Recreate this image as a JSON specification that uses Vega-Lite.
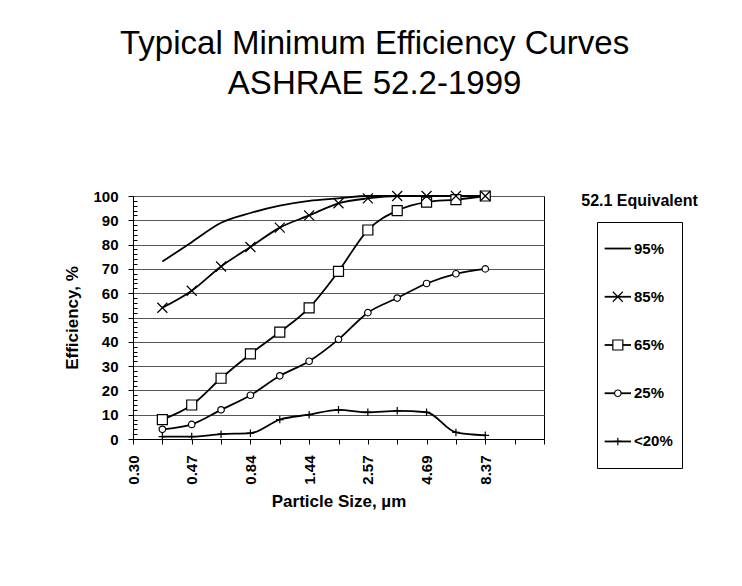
{
  "$schema": "https://vega.github.io/schema/vega-lite/v6.json",
  "background": "white",
  "padding": {"left": 63, "top": 28, "right": 5, "bottom": 5},
  "title": {
    "text": ["Typical Minimum Efficiency Curves", "ASHRAE 52.2-1999"],
    "font": "Liberation Sans",
    "fontSize": 33,
    "fontWeight": "normal",
    "lineHeight": 40,
    "color": "black",
    "anchor": "middle",
    "offset": 87,
    "dx": -6
  },
  "config": {
    "font": "Liberation Sans",
    "view": {"stroke": "black", "strokeWidth": 1},
    "axis": {
      "labelColor": "black",
      "titleColor": "black",
      "domainColor": "black",
      "tickColor": "black",
      "labelFont": "Liberation Sans",
      "titleFont": "Liberation Sans"
    }
  },
  "spacing": 28,
  "datasets": {
    "eff": [
      {"size": "0.35", "series": "95%", "eff": 73},
      {"size": "0.47", "series": "95%", "eff": 81},
      {"size": "0.62", "series": "95%", "eff": 89},
      {"size": "0.84", "series": "95%", "eff": 93},
      {"size": "1.14", "series": "95%", "eff": 96},
      {"size": "1.44", "series": "95%", "eff": 98},
      {"size": "1.88", "series": "95%", "eff": 99},
      {"size": "2.57", "series": "95%", "eff": 100},
      {"size": "3.46", "series": "95%", "eff": 100},
      {"size": "4.69", "series": "95%", "eff": 100},
      {"size": "6.20", "series": "95%", "eff": 100},
      {"size": "8.37", "series": "95%", "eff": 100},
      {"size": "0.35", "series": "<20%", "eff": 1},
      {"size": "0.47", "series": "<20%", "eff": 1},
      {"size": "0.62", "series": "<20%", "eff": 2},
      {"size": "0.84", "series": "<20%", "eff": 2.4},
      {"size": "1.14", "series": "<20%", "eff": 8},
      {"size": "1.44", "series": "<20%", "eff": 10},
      {"size": "1.88", "series": "<20%", "eff": 12},
      {"size": "2.57", "series": "<20%", "eff": 11},
      {"size": "3.46", "series": "<20%", "eff": 11.6},
      {"size": "4.69", "series": "<20%", "eff": 11},
      {"size": "6.20", "series": "<20%", "eff": 2.7},
      {"size": "8.37", "series": "<20%", "eff": 1.5},
      {"size": "0.35", "series": "25%", "eff": 4},
      {"size": "0.47", "series": "25%", "eff": 6},
      {"size": "0.62", "series": "25%", "eff": 12},
      {"size": "0.84", "series": "25%", "eff": 18},
      {"size": "1.14", "series": "25%", "eff": 26},
      {"size": "1.44", "series": "25%", "eff": 32},
      {"size": "1.88", "series": "25%", "eff": 41},
      {"size": "2.57", "series": "25%", "eff": 52},
      {"size": "3.46", "series": "25%", "eff": 58},
      {"size": "4.69", "series": "25%", "eff": 64},
      {"size": "6.20", "series": "25%", "eff": 68},
      {"size": "8.37", "series": "25%", "eff": 70},
      {"size": "0.35", "series": "65%", "eff": 8},
      {"size": "0.47", "series": "65%", "eff": 14},
      {"size": "0.62", "series": "65%", "eff": 25},
      {"size": "0.84", "series": "65%", "eff": 35},
      {"size": "1.14", "series": "65%", "eff": 44},
      {"size": "1.44", "series": "65%", "eff": 54},
      {"size": "1.88", "series": "65%", "eff": 69},
      {"size": "2.57", "series": "65%", "eff": 86},
      {"size": "3.46", "series": "65%", "eff": 94},
      {"size": "4.69", "series": "65%", "eff": 97.5},
      {"size": "6.20", "series": "65%", "eff": 98.5},
      {"size": "8.37", "series": "65%", "eff": 100},
      {"size": "0.35", "series": "85%", "eff": 54},
      {"size": "0.47", "series": "85%", "eff": 61},
      {"size": "0.62", "series": "85%", "eff": 71},
      {"size": "0.84", "series": "85%", "eff": 79},
      {"size": "1.14", "series": "85%", "eff": 87},
      {"size": "1.44", "series": "85%", "eff": 92},
      {"size": "1.88", "series": "85%", "eff": 97},
      {"size": "2.57", "series": "85%", "eff": 99},
      {"size": "3.46", "series": "85%", "eff": 100},
      {"size": "4.69", "series": "85%", "eff": 100},
      {"size": "6.20", "series": "85%", "eff": 100},
      {"size": "8.37", "series": "85%", "eff": 100}
    ],
    "series": [
      {"series": "95%"},
      {"series": "85%"},
      {"series": "65%"},
      {"series": "25%"},
      {"series": "<20%"}
    ]
  },
  "hconcat": [
    {
      "width": 411,
      "height": 243,
      "data": {"name": "eff"},
      "encoding": {
        "x": {
          "field": "size",
          "type": "ordinal",
          "scale": {
            "type": "point",
            "padding": 0,
            "domain": ["0.30", "0.35", "0.47", "0.62", "0.84", "1.14", "1.44", "1.88", "2.57", "3.46", "4.69", "6.20", "8.37", "11.4", "15.5"]
          },
          "axis": {
            "title": "Particle Size, µm",
            "titleFontSize": 17,
            "titleFontWeight": "bold",
            "titlePadding": 9,
            "labelAngle": -90,
            "labelExpr": "indexof(['0.30','0.47','0.84','1.44','2.57','4.69','8.37'], datum.value) >= 0 ? datum.value : ''",
            "labelOverlap": false,
            "labelFontSize": 15,
            "labelFontWeight": "bold",
            "labelPadding": 11,
            "tickSize": 5,
            "grid": false
          }
        },
        "y": {
          "field": "eff",
          "type": "quantitative",
          "scale": {"domain": [0, 100], "nice": false},
          "axis": {
            "title": "Efficiency, %",
            "titleFontSize": 17,
            "titleFontWeight": "bold",
            "titlePadding": 11,
            "values": [0, 2, 4, 6, 8, 10, 12, 14, 16, 18, 20, 22, 24, 26, 28, 30, 32, 34, 36, 38, 40, 42, 44, 46, 48, 50, 52, 54, 56, 58, 60, 62, 64, 66, 68, 70, 72, 74, 76, 78, 80, 82, 84, 86, 88, 90, 92, 94, 96, 98, 100],
            "labelExpr": "datum.value % 10 === 0 ? datum.label : ''",
            "labelOverlap": false,
            "labelFontSize": 15,
            "labelFontWeight": "bold",
            "labelPadding": 10,
            "tickSize": {"condition": {"test": "datum.value % 10 === 0", "value": 5}, "value": -4},
            "grid": true,
            "gridColor": "#555555",
            "gridOpacity": {"condition": {"test": "datum.value % 10 === 0", "value": 1}, "value": 0}
          }
        }
      },
      "layer": [
        {
          "mark": {"type": "line", "interpolate": "monotone", "color": "black", "strokeWidth": 1.8},
          "encoding": {
            "detail": {"field": "series"}
          }
        },
        {
          "transform": [{"filter": "datum.series !== '95%'"}],
          "mark": {"type": "point", "filled": true, "fill": "white", "stroke": "black", "strokeWidth": 1.2, "size": 100, "opacity": 1},
          "encoding": {
            "shape": {
              "field": "series",
              "scale": {
                "domain": ["85%", "65%", "25%", "<20%"],
                "range": [
                  "M-1,-1L1,1M-1,1L1,-1",
                  "M-1,-1H1V1H-1Z",
                  "M-0.65,0A0.65,0.65 0 1,1 0.65,0A0.65,0.65 0 1,1 -0.65,0Z",
                  "M-0.75,0H0.75M0,-0.75V0.75"
                ]
              },
              "legend": null
            }
          }
        }
      ]
    },
    {
      "spacing": 12,
      "vconcat": [
        {
          "width": 85,
          "height": 10,
          "view": {"stroke": null},
          "data": {"values": [{"legendTitle": "52.1 Equivalent"}]},
          "mark": {"type": "text", "align": "center", "baseline": "middle", "fontSize": 16, "fontWeight": "bold", "color": "black"},
          "encoding": {
            "text": {"field": "legendTitle"}
          }
        },
        {
          "width": 85,
          "height": 246,
          "data": {"name": "series"},
          "encoding": {
            "y": {
              "field": "series",
              "type": "ordinal",
              "scale": {"type": "point", "domain": ["95%", "85%", "65%", "25%", "<20%"], "padding": 0.55},
              "axis": null
            }
          },
          "layer": [
            {
              "mark": {"type": "rule", "color": "black", "strokeWidth": 1.8},
              "encoding": {
                "x": {"datum": 0.09, "type": "quantitative", "scale": {"domain": [0, 1]}, "axis": null},
                "x2": {"datum": 0.4}
              }
            },
            {
              "transform": [{"filter": "datum.series !== '95%'"}],
              "mark": {"type": "point", "filled": true, "fill": "white", "stroke": "black", "strokeWidth": 1.2, "size": 100, "opacity": 1},
              "encoding": {
                "x": {"datum": 0.245, "type": "quantitative"},
                "shape": {"field": "series", "legend": null}
              }
            },
            {
              "mark": {"type": "text", "align": "left", "baseline": "middle", "fontSize": 15, "fontWeight": "bold", "color": "black"},
              "encoding": {
                "x": {"datum": 0.435, "type": "quantitative"},
                "text": {"field": "series"}
              }
            }
          ]
        }
      ]
    }
  ]
}
